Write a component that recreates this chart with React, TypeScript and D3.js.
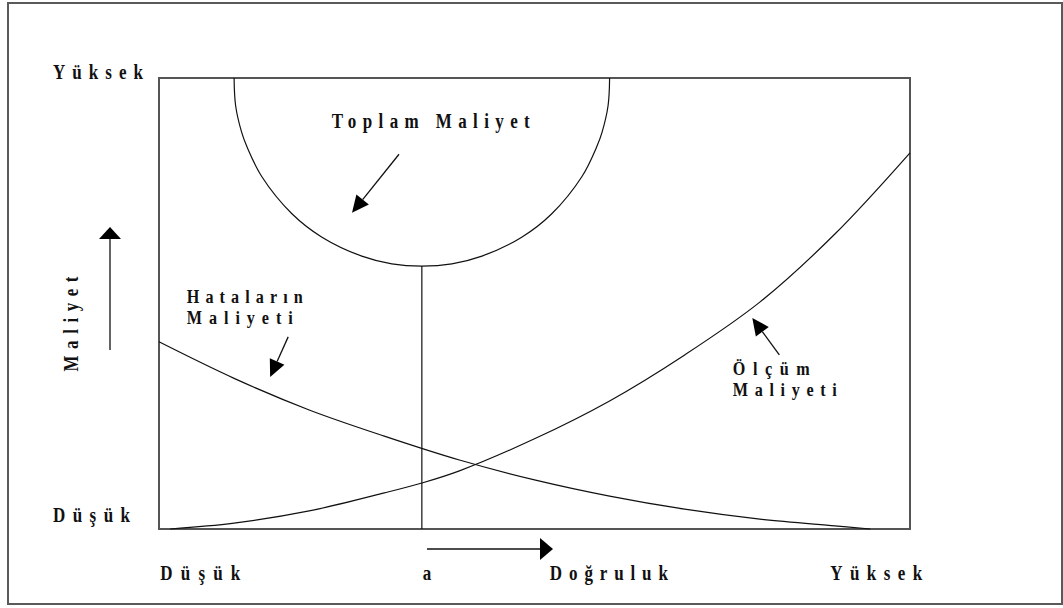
import { useEffect, useRef } from 'react';
import * as d3 from 'd3';

const W = 1063;
const H = 608;

// x = accuracy (0 = low, 100 = high), y = cost (0 = low, 100 = high)
const errorX = [0, 10, 20, 30, 40, 50, 60, 70, 80, 90, 94.7];
const errorCost = [41.5, 33.4, 26.4, 20.6, 15.3, 10.9, 7.3, 4.4, 2.2, 0.7, 0];

const measureX = [1.5, 10, 20, 30, 35, 40, 50, 60, 70, 80, 90, 100];
const measureCost = [0, 1.3, 4.0, 8.0, 10.2, 12.9, 20.0, 28.4, 38.6, 50.3, 65.4, 83.4];

const totalX = [10.0, 10.2, 11.0, 11.7, 13.7, 17.7, 21.7, 27.0, 31.0, 35.0, 39.0, 43.0, 48.3, 52.3, 56.3, 58.3, 59.0, 59.8, 60.0];
const totalCost = [100, 93.9, 88.0, 84.8, 78.1, 69.9, 64.7, 60.5, 58.8, 58.3, 58.8, 60.5, 64.7, 69.9, 78.1, 84.8, 88.0, 93.9, 100];

const yLabels = ['Düşük', 'Yüksek'];
const yLabelValues = [0, 100];
const xLabels = ['Düşük', 'a', 'Doğruluk', 'Yüksek'];
const xLabelValues = [5.5, 35.7, 59.9, 95.5];

const FONT = "'Liberation Serif', 'Times New Roman', serif";
const FS = 20;
const SX = 0.85; // glyphs in the picture are a bit narrow

type Pt = [number, number];

const App = () => {
    const svgRef = useRef<SVGSVGElement | null>(null);

    useEffect(() => {
        const svg = d3.select(svgRef.current);
        svg.selectAll('*').remove();

        const left = 159, right = 910, top = 78, bottom = 529;
        const x = d3.scaleLinear().domain([0, 100]).range([left, right]);
        const y = d3.scaleLinear().domain([0, 100]).range([bottom, top]);

        // outer frame
        svg.append('rect')
            .attr('x', 8).attr('y', 3)
            .attr('width', 1054).attr('height', 601)
            .attr('fill', 'none')
            .attr('stroke', '#5a5a5a')
            .attr('stroke-width', 2);

        // plot frame
        svg.append('rect')
            .attr('x', left).attr('y', top)
            .attr('width', right - left).attr('height', bottom - top)
            .attr('fill', 'none')
            .attr('stroke', '#555')
            .attr('stroke-width', 2);

        const line = d3.line<Pt>()
            .x(d => x(d[0]))
            .y(d => y(d[1]))
            .curve(d3.curveCatmullRom.alpha(0.5));

        const drawCurve = (xs: number[], ys: number[]) => {
            svg.append('path')
                .attr('d', line(xs.map((v, i) => [v, ys[i]] as Pt)))
                .attr('fill', 'none')
                .attr('stroke', '#111')
                .attr('stroke-width', 1.2);
        };
        drawCurve(errorX, errorCost);
        drawCurve(measureX, measureCost);
        drawCurve(totalX, totalCost);

        // optimum: vertical line from minimum of total cost
        const minCost = d3.min(totalCost) as number;
        const optX = totalX[totalCost.indexOf(minCost)];
        svg.append('line')
            .attr('x1', x(optX)).attr('x2', x(optX))
            .attr('y1', y(minCost)).attr('y2', y(0))
            .attr('stroke', '#111')
            .attr('stroke-width', 1.2);

        // text helper: bold serif, squeezed horizontally, each line spaced to a given width
        const label = (px: number, py: number, lines: string[], widths: number[],
            anchor = 'start', rot = 0, fs = FS, gap = 21.5) => {
            const g = svg.append('g')
                .attr('transform', `translate(${px},${py}) rotate(${rot}) scale(${SX},1)`);
            const t = g.append('text')
                .attr('text-anchor', anchor)
                .attr('font-family', FONT)
                .attr('font-weight', 'bold')
                .attr('font-size', fs)
                .attr('fill', '#111');
            lines.forEach((s, i) => {
                const ts = t.append('tspan')
                    .attr('x', 0)
                    .attr('y', i * gap)
                    .text(s);
                if (widths[i] > 0 && s.length > 1) {
                    ts.attr('textLength', widths[i] / SX).attr('lengthAdjust', 'spacing');
                }
            });
        };

        // arrow helper: line plus filled triangle head
        const arrow = (a: Pt, tip: Pt, len: number, hw: number) => {
            const dx = tip[0] - a[0], dy = tip[1] - a[1];
            const d = Math.hypot(dx, dy);
            const ux = dx / d, uy = dy / d;
            const bx = tip[0] - ux * len, by = tip[1] - uy * len;
            svg.append('line')
                .attr('x1', a[0]).attr('y1', a[1])
                .attr('x2', bx).attr('y2', by)
                .attr('stroke', '#111')
                .attr('stroke-width', 1.3);
            svg.append('path')
                .attr('d', `M${tip[0]},${tip[1]}L${bx - uy * hw},${by + ux * hw}L${bx + uy * hw},${by - ux * hw}Z`)
                .attr('fill', '#000');
        };

        // y labels
        const yWidths = [77, 90];
        yLabels.forEach((t, i) => {
            label(53, y(yLabelValues[i]) + (i === 0 ? -7 : 1), [t], [yWidths[i]]);
        });
        // x labels
        const xWidths = [80, 0, 118, 92];
        xLabels.forEach((t, i) => {
            label(x(xLabelValues[i]), 580, [t], [xWidths[i]], 'middle');
        });

        // axis titles with direction arrows
        label(78, 324, ['Maliyet'], [95], 'middle', -90);
        arrow([110, 350], [110, 227], 12, 11);
        arrow([427, 549], [553, 549], 13, 11);

        // curve annotations
        label(x(23.0), y(88.9), ['Toplam Maliyet'], [198]);
        arrow([x(31.96), y(83.1)], [x(25.7), y(70.1)], 17, 8);

        label(x(3.7), 302.5, ['Hataların', 'Maliyeti'], [116, 106], 'start', 0, 19);
        arrow([x(17.2), y(42.6)], [x(14.8), y(33.7)], 17, 8);

        label(x(76.4), 374.5, ['Ölçüm', 'Maliyeti'], [77, 104], 'start', 0, 19);
        arrow([x(82.6), y(38.6)], [x(79.0), y(46.8)], 17, 8);
    }, []);

    return (
        <div style={{ position: 'absolute', left: 0, top: 0, width: W, height: H, background: '#fff' }}>
            <svg ref={svgRef} width={W} height={H} style={{ display: 'block' }} />
        </div>
    );
};

export default App;
